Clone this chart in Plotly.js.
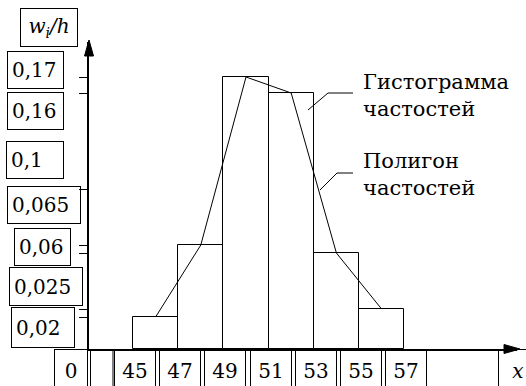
<!DOCTYPE html>
<html>
<head>
<meta charset="utf-8">
<script src="https://cdn.plot.ly/plotly-3.0.1.min.js"></script>
</head>
<body style="margin:0">
<div id="chart" style="width:526px;height:386px"></div>
<script>
// ---- data ----
var classEdges = [45, 47, 49, 51, 53, 55, 57];
var relFreqDensity = [0.02, 0.065, 0.17, 0.16, 0.06, 0.025];
var xTickLabels = ['45', '47', '49', '51', '53', '55', '57'];
var yTickLabels = ['0,17', '0,16', '0,1', '0,065', '0,06', '0,025', '0,02'];
var yTickValues = [0.17, 0.16, 0.1, 0.065, 0.06, 0.025, 0.02];
var originLabel = '0';
var xAxisName = '<i>x</i>';
var yAxisName = '<i>w<sub>i</sub>/h</i>';
var histLabel = 'Гистограмма<br>частостей';
var polyLabel = 'Полигон<br>частостей';

// ---- layout helpers (pixel geometry) ----
var W = 526, H = 386;
var M = {l: 89, r: 9, t: 42, b: 37};
var PW = W - M.l - M.r, PH = H - M.t - M.b;
function px(x) { return (x - M.l) / PW; }
function py(y) { return (H - M.b - y) / PH; }

var mids = [], widths = [];
for (var i = 0; i < classEdges.length - 1; i++) {
  mids.push((classEdges[i] + classEdges[i + 1]) / 2);
  widths.push(classEdges[i + 1] - classEdges[i]);
}

var FONT = 'DejaVu Serif';
var LABEL_SIZE = 20;

var traces = [
  {
    type: 'bar', x: mids, y: relFreqDensity, width: widths,
    marker: {color: 'rgba(255,255,255,0)', line: {color: '#000', width: 1}},
    hoverinfo: 'skip', showlegend: false
  },
  {
    type: 'scatter', mode: 'lines', x: mids, y: relFreqDensity,
    line: {color: '#000', width: 1}, hoverinfo: 'skip', showlegend: false
  }
];

// y label box geometry (center x, center y, width, height) in pixels
var yBoxGeom = [
  [35.5, 70, 55, 36],
  [35.5, 111, 55, 36],
  [35, 160, 56, 36],
  [44, 205, 72, 36],
  [42.5, 247, 55, 36],
  [46, 286.5, 72, 37],
  [43, 327.5, 62, 39]
];

var annotations = [];
yTickLabels.forEach(function (t, k) {
  var g = yBoxGeom[k];
  annotations.push({
    xref: 'paper', yref: 'paper', x: px(g[0]), y: py(g[1]),
    xanchor: 'center', yanchor: 'middle', text: t, showarrow: false,
    align: 'left', width: g[2] - 8, height: g[3] - 8, borderpad: 4,
    bordercolor: '#000', borderwidth: 1,
    font: {family: FONT, size: LABEL_SIZE}
  });
});
// y axis name box
annotations.push({
  xref: 'paper', yref: 'paper', x: px(49), y: py(27.5),
  xanchor: 'center', yanchor: 'middle', text: yAxisName, showarrow: false,
  align: 'center', width: 48, height: 29, borderpad: 4,
  bordercolor: '#000', borderwidth: 1,
  font: {family: FONT, size: LABEL_SIZE}
});
// x tick label boxes
xTickLabels.forEach(function (t, k) {
  annotations.push({
    xref: 'x', yref: 'paper', x: classEdges[k], y: 0, xshift: 2,
    xanchor: 'center', yanchor: 'top', text: t, showarrow: false,
    align: 'center', width: 32, height: 34, borderpad: 4,
    bordercolor: '#000', borderwidth: 1,
    font: {family: FONT, size: LABEL_SIZE}
  });
});
// origin box
annotations.push({
  xref: 'paper', yref: 'paper', x: px(71), y: 0,
  xanchor: 'center', yanchor: 'top', text: originLabel, showarrow: false,
  align: 'center', width: 24, height: 34, borderpad: 4,
  bordercolor: '#000', borderwidth: 1,
  font: {family: FONT, size: LABEL_SIZE}
});
// x axis name box
annotations.push({
  xref: 'paper', yref: 'paper', x: px(498), y: 0,
  xanchor: 'left', yanchor: 'top', text: xAxisName, showarrow: false,
  align: 'center', width: 30, height: 34, borderpad: 4,
  bordercolor: '#000', borderwidth: 1,
  font: {family: FONT, size: LABEL_SIZE}
});
// legend-like labels
annotations.push({
  xref: 'paper', yref: 'paper', x: px(361), y: py(68),
  xanchor: 'left', yanchor: 'top', text: histLabel, showarrow: false,
  align: 'left', font: {family: FONT, size: 21}
});
annotations.push({
  xref: 'paper', yref: 'paper', x: px(361), y: py(147),
  xanchor: 'left', yanchor: 'top', text: polyLabel, showarrow: false,
  align: 'left', font: {family: FONT, size: 21}
});

function path(pts, close) {
  return pts.map(function (p, k) { return (k ? 'L' : 'M') + px(p[0]) + ',' + py(p[1]); }).join(' ') + (close ? ' Z' : '');
}
var shapes = [
  {type: 'path', xref: 'paper', yref: 'paper', path: path([[353, 93], [328, 93], [308, 110]]),
   line: {color: '#000', width: 1}},
  {type: 'path', xref: 'paper', yref: 'paper', path: path([[353, 173], [337, 173], [320, 190]]),
   line: {color: '#000', width: 1}},
  {type: 'line', xref: 'paper', yref: 'paper', x0: px(90.5), x1: px(90.5), y0: 0, y1: py(H),
   line: {color: '#000', width: 1}},
  {type: 'line', xref: 'paper', yref: 'paper', x0: px(113), x1: px(113), y0: 0, y1: py(H),
   line: {color: '#000', width: 1}},
  // arrowheads
  {type: 'path', xref: 'paper', yref: 'paper', path: path([[89, 40], [84.5, 56], [93.5, 56]], true),
   fillcolor: '#000', line: {color: '#000', width: 1}},
  {type: 'path', xref: 'paper', yref: 'paper', path: path([[520, 349], [504, 344.5], [504, 353.5]], true),
   fillcolor: '#000', line: {color: '#000', width: 1}}
];

// x scale: 45 at px 133, ~22.6 px per unit
var pxPerUnit = 22.6;
var xMin = 45 - (133 - M.l) / pxPerUnit;
var xMax = xMin + PW / pxPerUnit;
var yMax = PH / 1600;

var layout = {
  width: W, height: H, margin: M,
  paper_bgcolor: '#fff', plot_bgcolor: '#fff',
  font: {color: '#000'},
  showlegend: false, bargap: 0,
  xaxis: {range: [xMin, xMax], showgrid: false, zeroline: false, showline: true,
          linecolor: '#000', linewidth: 2, ticks: '', showticklabels: false, fixedrange: true},
  yaxis: {range: [0, yMax], showgrid: false, zeroline: false, showline: true,
          linecolor: '#000', linewidth: 2, ticks: 'outside', ticklen: 8, tickcolor: '#000', tickwidth: 1,
          tickvals: yTickValues, showticklabels: false, fixedrange: true},
  annotations: annotations,
  shapes: shapes
};

Plotly.newPlot('chart', traces, layout, {displayModeBar: false});
</script>
</body>
</html>
